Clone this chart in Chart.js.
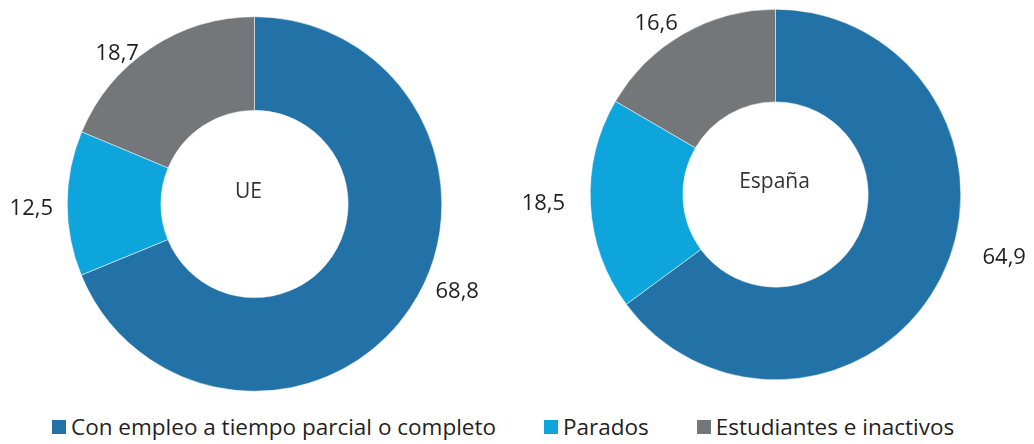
<!DOCTYPE html>
<html>
<head>
<meta charset="utf-8">
<script src="https://cdn.jsdelivr.net/npm/chart.js@4.4.1/dist/chart.umd.min.js"></script>
<style>
  html, body { margin: 0; padding: 0; background: #fff; }
  body { width: 1034px; height: 444px; position: relative; overflow: hidden; font-family: "Open Sans", sans-serif; }
  .box { position: absolute; top: 0; width: 517px; height: 410px; }
  #legend { position: absolute; left: 52px; top: 412px; display: flex; gap: 48px; font-size: 22.5px; color: #1f1f1f; line-height: 30px; }
  #legend .item { display: flex; align-items: center; }
  #legend .sw { width: 14px; height: 14px; margin-right: 5px; }
</style>
</head>
<body>
<div class="box" style="left:0"><canvas id="chartUE"></canvas></div>
<div class="box" style="left:517px"><canvas id="chartES"></canvas></div>
<div id="legend"></div>

<script>
// categorias y valores (%)
var categories = ['Con empleo a tiempo parcial o completo', 'Parados', 'Estudiantes e inactivos'];
var ueValues = [68.8, 12.5, 18.7];
var esValues = [64.9, 18.5, 16.6];
var colors = ['#2271a7', '#0ea5dc', '#74777a'];

function fmt(v) {
    return v.toFixed(1).replace('.', ',');
}

// etiquetas fuera del anillo + titulo en el centro
var donutText = {
    id: 'donutText',
    afterDatasetsDraw: function (chart, args, opts) {
        var ctx = chart.ctx;
        var meta = chart.getDatasetMeta(0);
        var data = chart.data.datasets[0].data;
        ctx.save();
        ctx.font = '22px "Open Sans"';
        ctx.fillStyle = '#1f1f1f';
        ctx.textAlign = 'center';
        ctx.textBaseline = 'middle';
        meta.data.forEach(function (arc, i) {
            var p = arc.getProps(['x', 'y', 'startAngle', 'endAngle', 'outerRadius'], true);
            var mid = (p.startAngle + p.endAngle) / 2 + opts.nudge[i] * Math.PI / 180;
            var r = p.outerRadius + opts.gap[i];
            ctx.fillText(fmt(data[i]), p.x + r * Math.cos(mid), p.y + r * Math.sin(mid));
        });
        var a = meta.data[0];
        ctx.font = '21px "Open Sans"';
        ctx.fillStyle = '#333';
        ctx.fillText(opts.title, a.x + opts.titleDx, a.y - 12);
        ctx.restore();
    }
};

function makeDonut(id, values, title, padding, nudge, gap, titleDx) {
    return new Chart(document.getElementById(id), {
        type: 'doughnut',
        data: {
            labels: categories,
            datasets: [{
                data: values,
                backgroundColor: colors,
                borderColor: '#ffffff',
                borderWidth: 0.5
            }]
        },
        options: {
            responsive: true,
            maintainAspectRatio: false,
            animation: false,
            cutout: '50%',
            layout: { padding: padding },
            plugins: {
                legend: { display: false },
                tooltip: { enabled: false },
                donutText: { title: title, nudge: nudge, gap: gap, titleDx: titleDx }
            }
        },
        plugins: [donutText]
    });
}

makeDonut('chartUE', ueValues, 'UE',
    { left: 67, right: 75, top: 16.5, bottom: 18.5 },
    [-10.5, -1.4, -8.7], [33.5, 36, 16.5], -6);
makeDonut('chartES', esValues, 'España',
    { left: 73, right: 73, top: 9, bottom: 30 },
    [-11.4, 0.9, -5.1], [52, 47, 23], -1);

// leyenda comun
var legend = document.getElementById('legend');
categories.forEach(function (c, i) {
    var item = document.createElement('div');
    item.className = 'item';
    var sw = document.createElement('span');
    sw.className = 'sw';
    sw.style.background = colors[i];
    var tx = document.createElement('span');
    tx.textContent = c;
    item.appendChild(sw);
    item.appendChild(tx);
    legend.appendChild(item);
});
</script>
</body>
</html>
